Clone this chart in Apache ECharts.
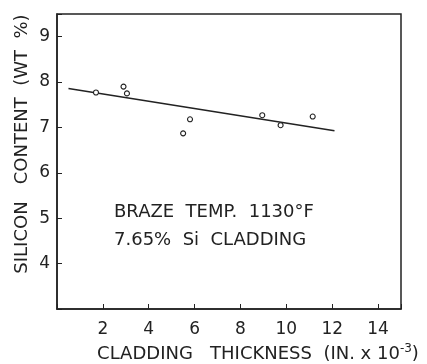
<!DOCTYPE html>
<html>
<head>
<meta charset="utf-8">
<script src="https://cdn.jsdelivr.net/npm/echarts@6/dist/echarts.min.js"></script>
<style>html,body{margin:0;padding:0;background:#fff}#c{width:427px;height:364px}</style>
</head>
<body>
<div id="c"></div>
<script>
// Data
const thickness = [1.7, 2.9, 3.05, 5.5, 5.8, 8.95, 9.75, 11.15];
const silicon   = [7.77, 7.9, 7.75, 6.87, 7.18, 7.27, 7.05, 7.24];
const fitX = [0.5, 12.1];
const fitY = [7.86, 6.93];
const xTickLabels = [2, 4, 6, 8, 10, 12, 14];
const yTickLabels = [4, 5, 6, 7, 8, 9];
const note1 = 'BRAZE  TEMP.  1130°F';
const note2 = '7.65%  Si  CLADDING';
const xTitle = 'CLADDING   THICKNESS  (IN. x 10{s|-3})';
const yTitle = 'SILICON   CONTENT  (WT  %)';

const ink = '#222';
const font = 'DejaVu Sans';
const chart = echarts.init(document.getElementById('c'));
chart.setOption({
  backgroundColor: '#fff',
  animation: false,
  grid: { left: 57, top: 14, right: 26, bottom: 55, containLabel: false, outerBoundsMode: 'none',
    show: true, borderColor: ink, borderWidth: 1.5 },
  xAxis: {
    type: 'value', min: 0, max: 15, interval: 2,
    axisLine: { show: true, lineStyle: { color: ink, width: 1.5 } },
    axisTick: { show: true, inside: true, length: 5, lineStyle: { color: ink } },
    splitLine: { show: false },
    axisLabel: { color: ink, fontFamily: font, fontSize: 17, margin: 12,
      formatter: v => xTickLabels.includes(v) ? String(v) : '' },
    name: xTitle,
    nameLocation: 'middle', nameGap: 33,
    nameTextStyle: { color: ink, fontFamily: font, fontSize: 18, padding: [0, 0, 0, 58],
      rich: { s: { fontSize: 12, color: ink, fontFamily: font, padding: [0, 0, 10, 0] } } }
  },
  yAxis: {
    type: 'value', min: 3, max: 9.5, interval: 1,
    axisLine: { show: true, lineStyle: { color: ink, width: 1.5 } },
    axisTick: { show: true, inside: true, length: 5, lineStyle: { color: ink } },
    splitLine: { show: false },
    axisLabel: { color: ink, fontFamily: font, fontSize: 17, margin: 7,
      formatter: v => yTickLabels.includes(v) ? String(v) : '' }
  },
  graphic: [
    { type: 'text', x: 22, y: 144, rotation: Math.PI / 2,
      style: { text: yTitle, fill: ink, font: '18px "DejaVu Sans"', textAlign: 'center', textVerticalAlign: 'middle' } },
    { type: 'text', x: 114, y: 212, style: { text: note1, fill: ink, font: '18px "DejaVu Sans"', textVerticalAlign: 'middle' } },
    { type: 'text', x: 114, y: 240, style: { text: note2, fill: ink, font: '18px "DejaVu Sans"', textVerticalAlign: 'middle' } }
  ],
  series: [
    { type: 'line', data: fitX.map((x, i) => [x, fitY[i]]), showSymbol: false,
      lineStyle: { color: ink, width: 1.5 } },
    { type: 'scatter', data: thickness.map((x, i) => [x, silicon[i]]),
      symbol: 'circle', symbolSize: 5, z: 5,
      itemStyle: { color: '#fff', borderColor: ink, borderWidth: 1.1, opacity: 1 } }
  ]
});
</script>
</body>
</html>
